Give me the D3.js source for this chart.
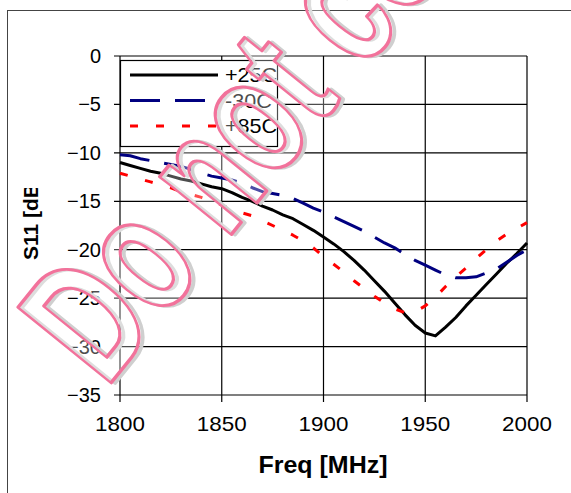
<!DOCTYPE html>
<html>
<head>
<meta charset="utf-8">
<script src="https://cdn.jsdelivr.net/npm/d3@7"></script>
<style>
  body { margin: 0; background: #fff; }
  svg { display: block; font-family: "Liberation Sans", Arial, sans-serif; }
</style>
</head>
<body>
<div id="chart"></div>
<script>
// S11 vs frequency at three temperatures

var freq = [1800, 1805, 1810, 1815, 1820, 1825, 1830, 1835, 1840, 1845,
  1850, 1855, 1860, 1865, 1870, 1875, 1880, 1885, 1890, 1895,
  1900, 1905, 1910, 1915, 1920, 1925, 1930, 1935, 1940, 1945,
  1950, 1955, 1960, 1965, 1970, 1975, 1980, 1985, 1990, 1995, 2000];

var s11_25 = [-11.0, -11.3, -11.6, -11.9, -12.1, -12.4, -12.7, -12.9, -13.2, -13.5,
  -13.7, -14.1, -14.6, -15.0, -15.5, -15.9, -16.4, -16.8, -17.4, -18.0,
  -18.7, -19.4, -20.2, -21.1, -22.1, -23.2, -24.3, -25.5, -26.7, -27.8,
  -28.6, -28.9, -28.0, -27.0, -25.8, -24.7, -23.6, -22.5, -21.4, -20.4, -19.3];

var s11_m30 = [-10.2, -10.3, -10.6, -10.8, -11.0, -11.2, -11.4, -11.7, -12.1, -12.4,
  -12.6, -12.8, -13.1, -13.6, -14.0, -14.2, -14.4, -14.7, -15.2, -15.7,
  -16.1, -16.6, -17.1, -17.6, -18.1, -18.7, -19.3, -19.8, -20.5, -21.1,
  -21.6, -22.1, -22.6, -22.9, -22.9, -22.8, -22.4, -22.0, -21.3, -20.6, -20.0];

var s11_85 = [-12.1, -12.4, -12.7, -13.0, -13.3, -13.6, -14.0, -14.3, -14.6, -15.0,
  -15.4, -15.9, -16.2, -16.5, -17.0, -17.5, -18.0, -18.5, -19.1, -19.8,
  -20.7, -21.5, -22.3, -23.2, -24.0, -24.8, -25.5, -26.1, -26.5, -26.4,
  -25.8, -24.9, -23.8, -22.8, -21.9, -20.9, -20.0, -19.1, -18.4, -17.8, -17.2];

var seriesNames = ["+25C", "-30C", "+85C"];
var xTicks = [1800, 1850, 1900, 1950, 2000];
var yTicks = [0, -5, -10, -15, -20, -25, -30, -35];

var W = 571, H = 493;
var pLeft = 120, pRight = 527, pTop = 56, pBottom = 395;

var svg = d3.select("#chart").append("svg")
  .attr("width", W).attr("height", H);

// outer frame
svg.append("rect")
  .attr("x", 7.5).attr("y", 10.5).attr("width", 700).attr("height", 700)
  .attr("fill", "none").attr("stroke", "#444").attr("stroke-width", 1);

var x = d3.scaleLinear().domain([1800, 2000]).range([pLeft, pRight]);
var y = d3.scaleLinear().domain([-35, 0]).range([pBottom, pTop]);

// grid
var grid = svg.append("g").attr("stroke", "#000").attr("stroke-width", 1.2);
grid.selectAll("line.h").data(yTicks).enter().append("line")
  .attr("x1", pLeft - 6).attr("x2", pRight)
  .attr("y1", function (d) { return y(d); }).attr("y2", function (d) { return y(d); });
grid.selectAll("line.v").data(xTicks).enter().append("line")
  .attr("x1", function (d) { return x(d); }).attr("x2", function (d) { return x(d); })
  .attr("y1", pTop).attr("y2", pBottom + 7);

// axis labels
svg.append("g").selectAll("text").data(yTicks).enter().append("text")
  .attr("x", 101).attr("y", function (d) { return y(d) + 7; })
  .attr("text-anchor", "end").attr("font-size", 20)
  .text(function (d) { return d === 0 ? "0" : "\u2212" + Math.abs(d); });

svg.append("g").selectAll("text").data(xTicks).enter().append("text")
  .attr("transform", function (d) { return "translate(" + x(d) + ",431) scale(1.12,1)"; })
  .attr("text-anchor", "middle").attr("font-size", 20)
  .text(function (d) { return d; });

svg.append("text")
  .attr("x", 323).attr("y", 473)
  .attr("text-anchor", "middle").attr("font-size", 23).attr("font-weight", "bold")
  .attr("textLength", 129).attr("lengthAdjust", "spacingAndGlyphs")
  .text("Freq [MHz]");

// y title, top part cut off like in the original
svg.append("clipPath").attr("id", "ytclip")
  .append("rect").attr("x", 0).attr("y", 188).attr("width", 100).attr("height", 120);
svg.append("g").attr("clip-path", "url(#ytclip)")
  .append("text")
  .attr("transform", "translate(38,260) rotate(-90)")
  .attr("font-size", 21).attr("font-weight", "bold")
  .text("S11 [dB]");

// lines
var line = d3.line()
  .x(function (d, i) { return x(freq[i]); })
  .y(function (d) { return y(d); });

var styles = [
  { data: s11_25, color: "#000", dash: null },
  { data: s11_m30, color: "#000080", dash: "30,15" },
  { data: s11_85, color: "#ff0000", dash: "8,18" }
];

styles.forEach(function (s) {
  svg.append("path")
    .attr("d", line(s.data))
    .attr("fill", "none")
    .attr("stroke", s.color)
    .attr("stroke-width", 3)
    .attr("stroke-dasharray", s.dash)
    .attr("stroke-linejoin", "round");
});

// legend
var lg = svg.append("g");
lg.append("rect").attr("x", 120.5).attr("y", 60.5).attr("width", 157).attr("height", 86)
  .attr("fill", "#fff").attr("stroke", "#000").attr("stroke-width", 1.2);
styles.forEach(function (s, i) {
  var ly = 75 + i * 25.5;
  lg.append("line").attr("x1", 130).attr("x2", 218).attr("y1", ly).attr("y2", ly)
    .attr("stroke", s.color).attr("stroke-width", 3)
    .attr("stroke-dasharray", s.dash);
  lg.append("text")
    .attr("transform", "translate(225," + (ly + 7) + ") scale(1.08,1)")
    .attr("font-size", 20)
    .text(seriesNames[i]);
});

// watermark
var wm = svg.append("g").attr("transform", "translate(106,389) rotate(-51) scale(0.68,1)");
wm.append("text")
  .attr("x", 3).attr("y", 3)
  .attr("font-size", 174).attr("font-weight", "bold")
  .attr("fill", "none").attr("stroke", "#cfcfcf").attr("stroke-width", 3.5)
  .attr("vector-effect", "non-scaling-stroke")
  .attr("stroke-linejoin", "round")
  .text("Do not copy");
wm.append("text")
  .attr("font-size", 174).attr("font-weight", "bold")
  .attr("fill", "#fff").attr("fill-opacity", 0.3)
  .attr("stroke", "#f2729b").attr("stroke-width", 3)
  .attr("vector-effect", "non-scaling-stroke")
  .attr("stroke-linejoin", "round")
  .text("Do not copy");
</script>
</body>
</html>
